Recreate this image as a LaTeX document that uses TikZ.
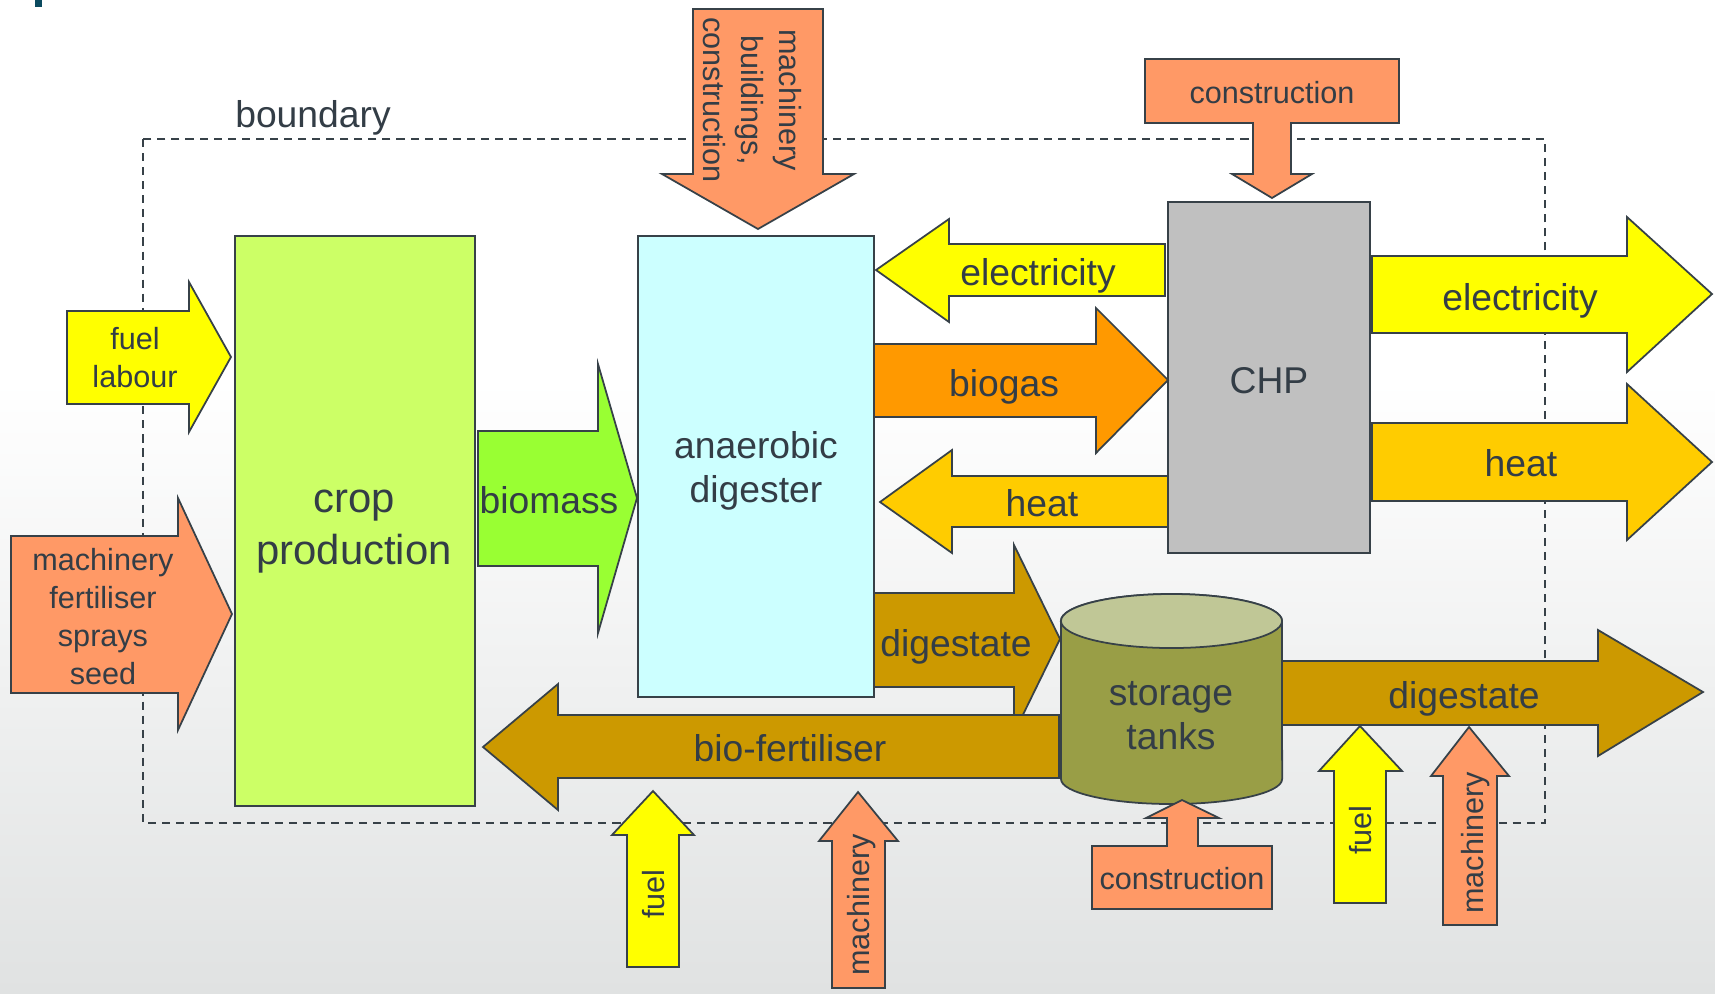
\documentclass[tikz,border=0pt]{standalone}
\usepackage{fontspec}
\setmainfont{Liberation Sans}

\definecolor{ink}{RGB}{51,61,70}
\definecolor{edge}{RGB}{55,65,72}
\definecolor{elec}{RGB}{255,255,0}
\definecolor{salmon}{RGB}{255,153,102}
\definecolor{cropgreen}{RGB}{204,255,102}
\definecolor{biogreen}{RGB}{153,255,51}
\definecolor{digcyan}{RGB}{204,255,255}
\definecolor{gasorange}{RGB}{255,153,0}
\definecolor{heatgold}{RGB}{255,204,0}
\definecolor{chpgrey}{RGB}{192,192,192}
\definecolor{digbrown}{RGB}{204,153,0}
\definecolor{tankside}{RGB}{153,158,70}
\definecolor{tanktop}{RGB}{192,199,150}
\definecolor{bgbottom}{RGB}{224,226,226}
\definecolor{titlemark}{RGB}{11,74,95}

\begin{document}
\begin{tikzpicture}[
    x=0.01cm, y=-0.01cm,
    box/.style={draw=edge, line width=0.5pt, inner sep=0pt, align=center, text=ink, text depth=0pt, font=\fontsize{10.6pt}{12.5pt}\selectfont},
    flow/.style={draw=edge, line width=0.5pt, line join=miter},
    lbl/.style={text=ink, inner sep=0pt, align=center, text depth=0pt, font=\fontsize{10.6pt}{12.5pt}\selectfont},
    small/.style={text=ink, inner sep=0pt, align=center, text depth=0pt, font=\fontsize{8.7pt}{10.8pt}\selectfont}
]
\useasboundingbox (0,0) rectangle (1715,993);
\fill[white] (0,0) rectangle (1715,993);
\shade[top color=white, bottom color=bgbottom] (0,380) rectangle (1715,993);
\fill[titlemark] (35,0) rectangle (42,7);

% system boundary
\draw[edge, line width=0.4pt, dash pattern=on 2.3pt off 1.7pt] (143,139) rectangle (1545,823);
\node[lbl] (bnd) at (313,114) {boundary};

% main units
\node[box, fill=cropgreen, minimum width=2.4cm, minimum height=5.7cm] (crop) at (355,521) {};
\node[lbl, font=\fontsize{11.9pt}{14.9pt}\selectfont] (cropText) at (354,527) {crop\\production};
\node[box, fill=digcyan, minimum width=2.36cm, minimum height=4.61cm] (ad) at (756,466.5) {anaerobic\\digester};
\node[box, fill=chpgrey, minimum width=2.02cm, minimum height=3.51cm] (chp) at (1269,377.5) {};
\node[lbl] (chpText) at (1269,380) {CHP};

% storage tanks
\filldraw[flow, fill=tankside] (1061,621) -- (1061,779) arc[start angle=180, end angle=360, x radius=1.105cm, y radius=0.25cm] -- (1282,621) arc[start angle=0, end angle=180, x radius=1.105cm, y radius=0.27cm] -- cycle;
\filldraw[flow, fill=tanktop] (1171.5,621) ellipse[x radius=1.105cm, y radius=0.27cm];
\node[lbl] (tanks) at (1171,715) {storage\\tanks};

% inputs from the left
\filldraw[flow, fill=elec] (67,311) -- (189,311) -- (189,282) -- (231,357) -- (189,432) -- (189,404) -- (67,404) -- cycle;
\node[small] (fuelA) at (135,357) {fuel\\labour};
\filldraw[flow, fill=salmon] (11,536) -- (178,536) -- (178,498) -- (232,614) -- (178,730) -- (178,693) -- (11,693) -- cycle;
\node[small] (inputsA) at (103,616) {machinery\\fertiliser\\sprays\\seed};

% crop to digester
\filldraw[flow, fill=biogreen] (478,431) -- (598,431) -- (598,364) -- (637,498) -- (598,633) -- (598,566) -- (478,566) -- cycle;
\node[lbl] (biomass) at (549,500) {biomass};

% inputs from above
\filldraw[flow, fill=salmon] (693,9) -- (823,9) -- (823,174) -- (854,174) -- (758,229) -- (662,174) -- (693,174) -- cycle;
\node[small, rotate=-90] (inputsB) at (753,100) {machinery\\buildings,\\construction};
\filldraw[flow, fill=salmon] (1145,59) -- (1399,59) -- (1399,123) -- (1291,123) -- (1291,174) -- (1312,174) -- (1272,198) -- (1232,174) -- (1253,174) -- (1253,123) -- (1145,123) -- cycle;
\node[small] (constrA) at (1272,92) {construction};

% digester and CHP
\filldraw[flow, fill=elec] (1165,244) -- (949,244) -- (949,219) -- (876,270) -- (949,322) -- (949,296) -- (1165,296) -- cycle;
\node[lbl] (elecA) at (1038,272) {electricity};
\filldraw[flow, fill=gasorange] (874,344) -- (1096,344) -- (1096,308) -- (1168,380) -- (1096,453) -- (1096,417) -- (874,417) -- cycle;
\node[lbl] (biogas) at (1004,383) {biogas};
\filldraw[flow, fill=heatgold] (1168,476) -- (952,476) -- (952,450) -- (880,502) -- (952,553) -- (952,527) -- (1168,527) -- cycle;
\node[lbl] (heatA) at (1042,503) {heat};

% CHP outputs
\filldraw[flow, fill=elec] (1372,256) -- (1627,256) -- (1627,217) -- (1712,294) -- (1627,372) -- (1627,333) -- (1372,333) -- cycle;
\node[lbl] (elecB) at (1520,297) {electricity};
\filldraw[flow, fill=heatgold] (1372,423) -- (1627,423) -- (1627,384) -- (1712,462) -- (1627,540) -- (1627,501) -- (1372,501) -- cycle;
\node[lbl] (heatB) at (1521,463) {heat};

% digestate
\filldraw[flow, fill=digbrown] (874,593) -- (1014,593) -- (1014,545) -- (1060,639) -- (1014,733) -- (1014,687) -- (874,687) -- cycle;
\node[lbl] (digA) at (956,643) {digestate};
\filldraw[flow, fill=digbrown] (1059,715) -- (558,715) -- (558,684) -- (483,747) -- (558,810) -- (558,778) -- (1059,778) -- cycle;
\node[lbl] (biofert) at (790,748) {bio-fertiliser};
\filldraw[flow, fill=digbrown] (1282,661) -- (1598,661) -- (1598,630) -- (1703,692) -- (1598,756) -- (1598,725) -- (1282,725) -- cycle;
\node[lbl] (digB) at (1464,695) {digestate};

% inputs from below
\filldraw[flow, fill=elec] (627,967) -- (627,835) -- (612,835) -- (653,791) -- (694,835) -- (679,835) -- (679,967) -- cycle;
\node[small, rotate=90] (fuelB) at (653,894) {fuel};
\filldraw[flow, fill=salmon] (832,988) -- (832,841) -- (819,841) -- (858,792) -- (898,841) -- (885,841) -- (885,988) -- cycle;
\node[small, rotate=90] (machB) at (858,905) {machinery};
\filldraw[flow, fill=salmon] (1092,909) -- (1272,909) -- (1272,846) -- (1198,846) -- (1198,818) -- (1219,818) -- (1182,800) -- (1146,818) -- (1167,818) -- (1167,846) -- (1092,846) -- cycle;
\node[small] (constrB) at (1182,878) {construction};
\filldraw[flow, fill=elec] (1334,903) -- (1334,771) -- (1319,771) -- (1360,726) -- (1402,771) -- (1386,771) -- (1386,903) -- cycle;
\node[small, rotate=90] (fuelC) at (1360,830) {fuel};
\filldraw[flow, fill=salmon] (1443,925) -- (1443,776) -- (1431,776) -- (1469,727) -- (1509,776) -- (1497,776) -- (1497,925) -- cycle;
\node[small, rotate=90] (machC) at (1472,843) {machinery};
\end{tikzpicture}
\end{document}
